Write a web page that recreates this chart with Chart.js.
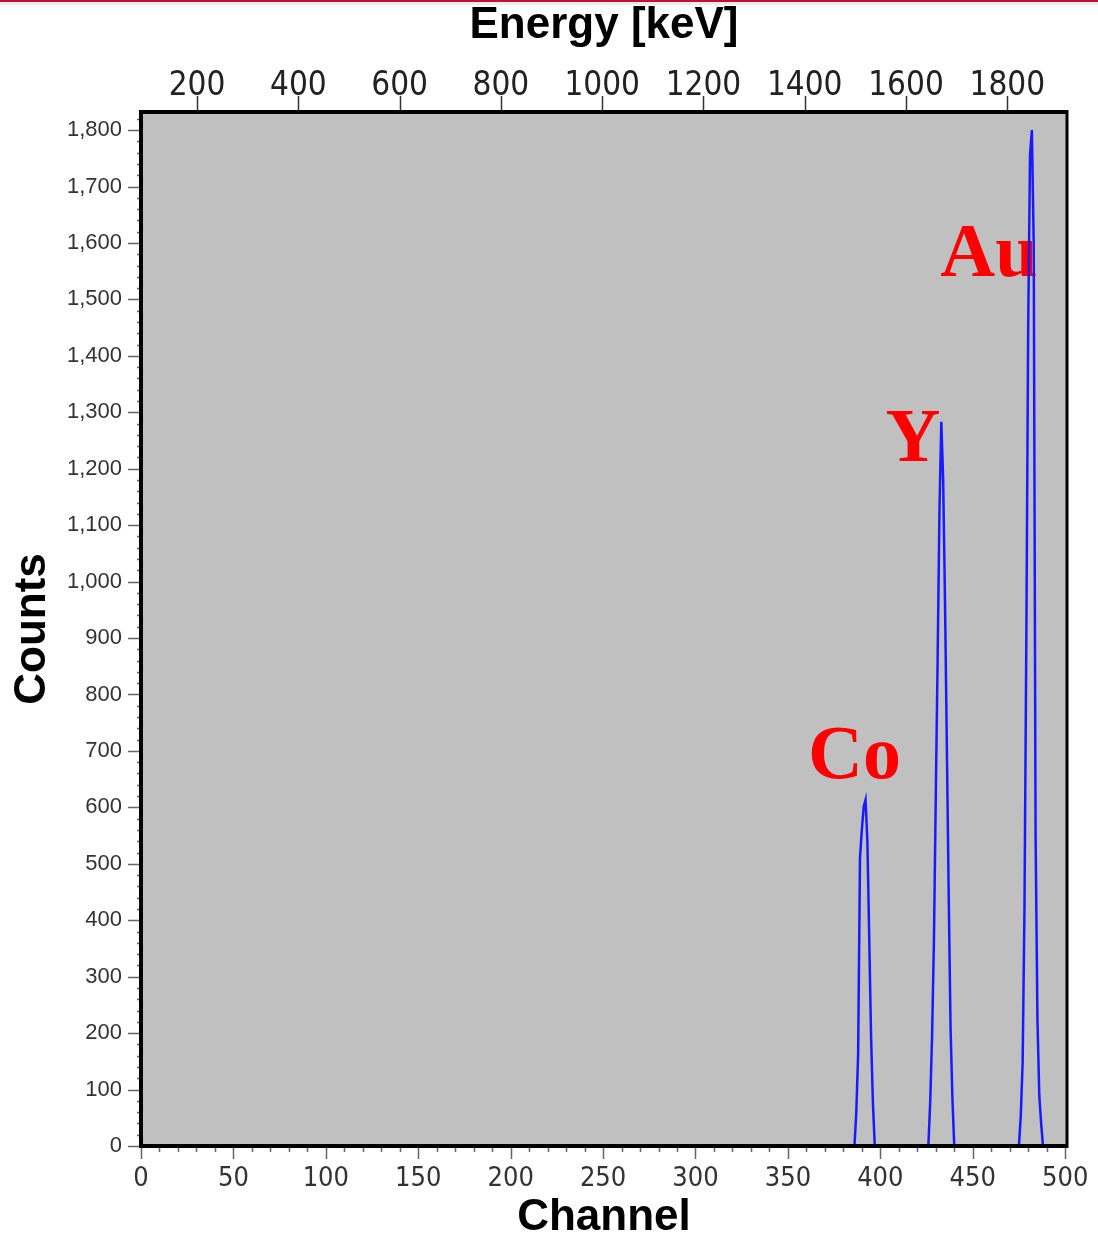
<!DOCTYPE html>
<html>
<head>
<meta charset="utf-8">
<title>Counts vs Channel</title>
<script src="https://cdn.jsdelivr.net/npm/chart.js@4.4.1/dist/chart.umd.min.js"></script>
<style>
    html, body { margin: 0; padding: 0; background: #fff; }
    #wrap { position: relative; width: 1098px; height: 1237px; overflow: hidden; }
    #spectrumChart { position: absolute; left: 0; top: 0; }
    #topline { position: absolute; left: 0; top: 0; width: 1098px; height: 2px; background: #c8102e; }
    #topband { position: absolute; left: 0; top: 2px; width: 1098px; height: 3px; background: #ededed; }
</style>
</head>
<body>
<div id="wrap">
    <canvas id="spectrumChart" width="1098" height="1237"></canvas>
    <div id="topline"></div>
    <div id="topband"></div>
</div>
<script>
// spectrum (channel -> counts)
var channels = [0,
    386, 387, 388, 389, 390, 391, 392, 393, 394, 395, 396, 397,
    426, 427, 428, 429, 430, 431, 432, 433, 434, 435, 436, 437, 438, 439, 440,
    475, 476, 477, 478, 479, 480, 481, 482, 483, 484, 485, 486, 487, 488,
    500];
var counts = [0,
    0, 60, 163, 510, 560, 601, 613, 540, 369, 193, 76, 0,
    0, 79, 194, 362, 619, 861, 1127, 1283, 1180, 964, 705, 445, 209, 85, 0,
    0, 55, 147, 422, 900, 1452, 1756, 1800, 1597, 551, 227, 90, 41, 0,
    0];

var channelTicks = [0, 50, 100, 150, 200, 250, 300, 350, 400, 450, 500];
var countTicks = [0, 100, 200, 300, 400, 500, 600, 700, 800, 900, 1000, 1100, 1200, 1300, 1400, 1500, 1600, 1700, 1800];
var energyTicks = [200, 400, 600, 800, 1000, 1200, 1400, 1600, 1800];

var peakNames = ['Co', 'Y', 'Au'];
var peakNameChannels = [386, 417.6, 458.7];
var peakNameCounts = [652, 1214, 1541];

var channelMax = 501;
var countMax = 1832;
var energyAtZero = 89.3;      // keV at channel 0
var energyPerChannel = 3.65;  // keV per channel

var sansFont = "'Liberation Sans', Arial, sans-serif";
var narrowFont = "'Liberation Sans Narrow', 'Arial Narrow', 'DejaVu Sans Condensed', sans-serif";

var framePlugin = {
    id: 'frame',
    beforeDraw: function(chart){
        var a = chart.chartArea;
        var ctx = chart.ctx;
        ctx.save();
        ctx.fillStyle = '#c0c0c0';
        ctx.fillRect(a.left, a.top, a.right - a.left, a.bottom - a.top);
        ctx.restore();
    },
    beforeDatasetsDraw: function(chart){
        var ctx = chart.ctx;
        var xs = chart.scales.x;
        var ys = chart.scales.y;
        ctx.save();
        ctx.fillStyle = '#ff0000';
        ctx.font = "bold 76px 'Liberation Serif', 'Times New Roman', serif";
        ctx.textAlign = 'center';
        ctx.textBaseline = 'alphabetic';
        for (var i = 0; i < peakNames.length; i++) {
            ctx.fillText(peakNames[i], xs.getPixelForValue(peakNameChannels[i]), ys.getPixelForValue(peakNameCounts[i]));
        }
        ctx.restore();
    },
    afterDatasetsDraw: function(chart){
        var a = chart.chartArea;
        var ctx = chart.ctx;
        var xs = chart.scales.x;
        var ys = chart.scales.y;
        var es = chart.scales.energy;
        var i, p;
        ctx.save();
        ctx.strokeStyle = '#666';
        ctx.lineWidth = 1.5;
        ctx.beginPath();
        // counts: major + minor ticks
        for (i = 0; i <= 1820; i += 20) {
            p = Math.round(ys.getPixelForValue(i)) + 0.5;
            ctx.moveTo(a.left - (i % 100 === 0 ? 13 : 4), p);
            ctx.lineTo(a.left, p);
        }
        // channel: major + minor ticks
        for (i = 0; i <= 500; i += 10) {
            p = Math.round(xs.getPixelForValue(i)) + 0.5;
            ctx.moveTo(p, a.bottom);
            ctx.lineTo(p, a.bottom + (i % 50 === 0 ? 13 : 6));
        }
        ctx.stroke();
        ctx.strokeStyle = '#333';
        ctx.beginPath();
        for (i = 0; i < energyTicks.length; i++) {
            p = Math.round(es.getPixelForValue(energyTicks[i])) + 0.5;
            ctx.moveTo(p, a.top);
            ctx.lineTo(p, a.top - 16);
        }
        ctx.stroke();
        // plot frame
        ctx.strokeStyle = '#000';
        ctx.lineWidth = 4;
        ctx.beginPath();
        ctx.moveTo(a.right, a.top);
        ctx.lineTo(a.left, a.top);
        ctx.lineTo(a.left, a.bottom);
        ctx.lineTo(a.right, a.bottom);
        ctx.stroke();
        ctx.lineWidth = 3;
        ctx.beginPath();
        ctx.moveTo(a.right, a.top - 2);
        ctx.lineTo(a.right, a.bottom + 2);
        ctx.stroke();
        ctx.restore();
    }
};

function fixedTicks(values){
    return function(scale){
        scale.ticks = values.map(function(v){ return { value: v }; });
    };
}

function fixSize(size){
    return function(scale){
        if (scale.isHorizontal()) {
            scale.height = size;
        } else {
            scale.width = size;
        }
        scale.paddingLeft = 0;
        scale.paddingRight = 0;
        scale.paddingTop = 0;
        scale.paddingBottom = 0;
    };
}

function buildPoints()
{
    var points = [];
    for (var i = 0; i < channels.length; i++) {
        points.push({ x: channels[i], y: counts[i] });
    }
    return points;
}

var spectrumChart = new Chart(document.getElementById('spectrumChart'), {
    type: 'line',
    data: {
        datasets: [{
            data: buildPoints(),
            borderColor: '#1a1aff',
            borderWidth: 2.5,
            pointRadius: 0,
            tension: 0,
            fill: false
        }]
    },
    options: {
        responsive: false,
        animation: false,
        devicePixelRatio: 1,
        layout: { padding: { left: 0, right: 31, top: 0, bottom: 0 } },
        plugins: { legend: { display: false }, tooltip: { enabled: false } },
        scales: {
            x: {
                type: 'linear',
                position: 'bottom',
                min: 0,
                max: channelMax,
                afterBuildTicks: fixedTicks(channelTicks),
                afterFit: fixSize(91),
                grid: { display: false, drawTicks: false },
                border: { display: false },
                ticks: {
                    autoSkip: false,
                    maxRotation: 0,
                    padding: 19,
                    color: '#333',
                    font: { family: narrowFont, size: 27, lineHeight: 1 }
                },
                title: {
                    display: true,
                    text: 'Channel',
                    color: '#000',
                    padding: { top: 0, bottom: 0 },
                    font: { family: sansFont, size: 44, weight: 'bold', lineHeight: 0.86 }
                }
            },
            energy: {
                type: 'linear',
                position: 'top',
                min: energyAtZero,
                max: energyAtZero + channelMax * energyPerChannel,
                afterBuildTicks: fixedTicks(energyTicks),
                afterFit: fixSize(112),
                grid: { display: false, drawTicks: false },
                border: { display: false },
                ticks: {
                    autoSkip: false,
                    maxRotation: 0,
                    padding: 9.5,
                    color: '#222',
                    font: { family: narrowFont, size: 33, lineHeight: 1 },
                    callback: function(v){ return String(v); }
                },
                title: {
                    display: true,
                    text: 'Energy [keV]',
                    color: '#000',
                    padding: { top: 4, bottom: 0 },
                    font: { family: sansFont, size: 44, weight: 'bold', lineHeight: 1 }
                }
            },
            y: {
                type: 'linear',
                position: 'left',
                min: 0,
                max: countMax,
                afterBuildTicks: fixedTicks(countTicks),
                afterFit: fixSize(141),
                grid: { display: false, drawTicks: false },
                border: { display: false },
                ticks: {
                    autoSkip: false,
                    padding: 19,
                    color: '#333',
                    font: { family: sansFont, size: 22 },
                    callback: function(v){ return v.toLocaleString('en-US'); }
                },
                title: {
                    display: true,
                    text: 'Counts',
                    color: '#000',
                    padding: { top: 11, bottom: 0 },
                    font: { family: sansFont, size: 44, weight: 'bold', lineHeight: 1 }
                }
            }
        }
    },
    plugins: [framePlugin]
});
</script>
</body>
</html>
